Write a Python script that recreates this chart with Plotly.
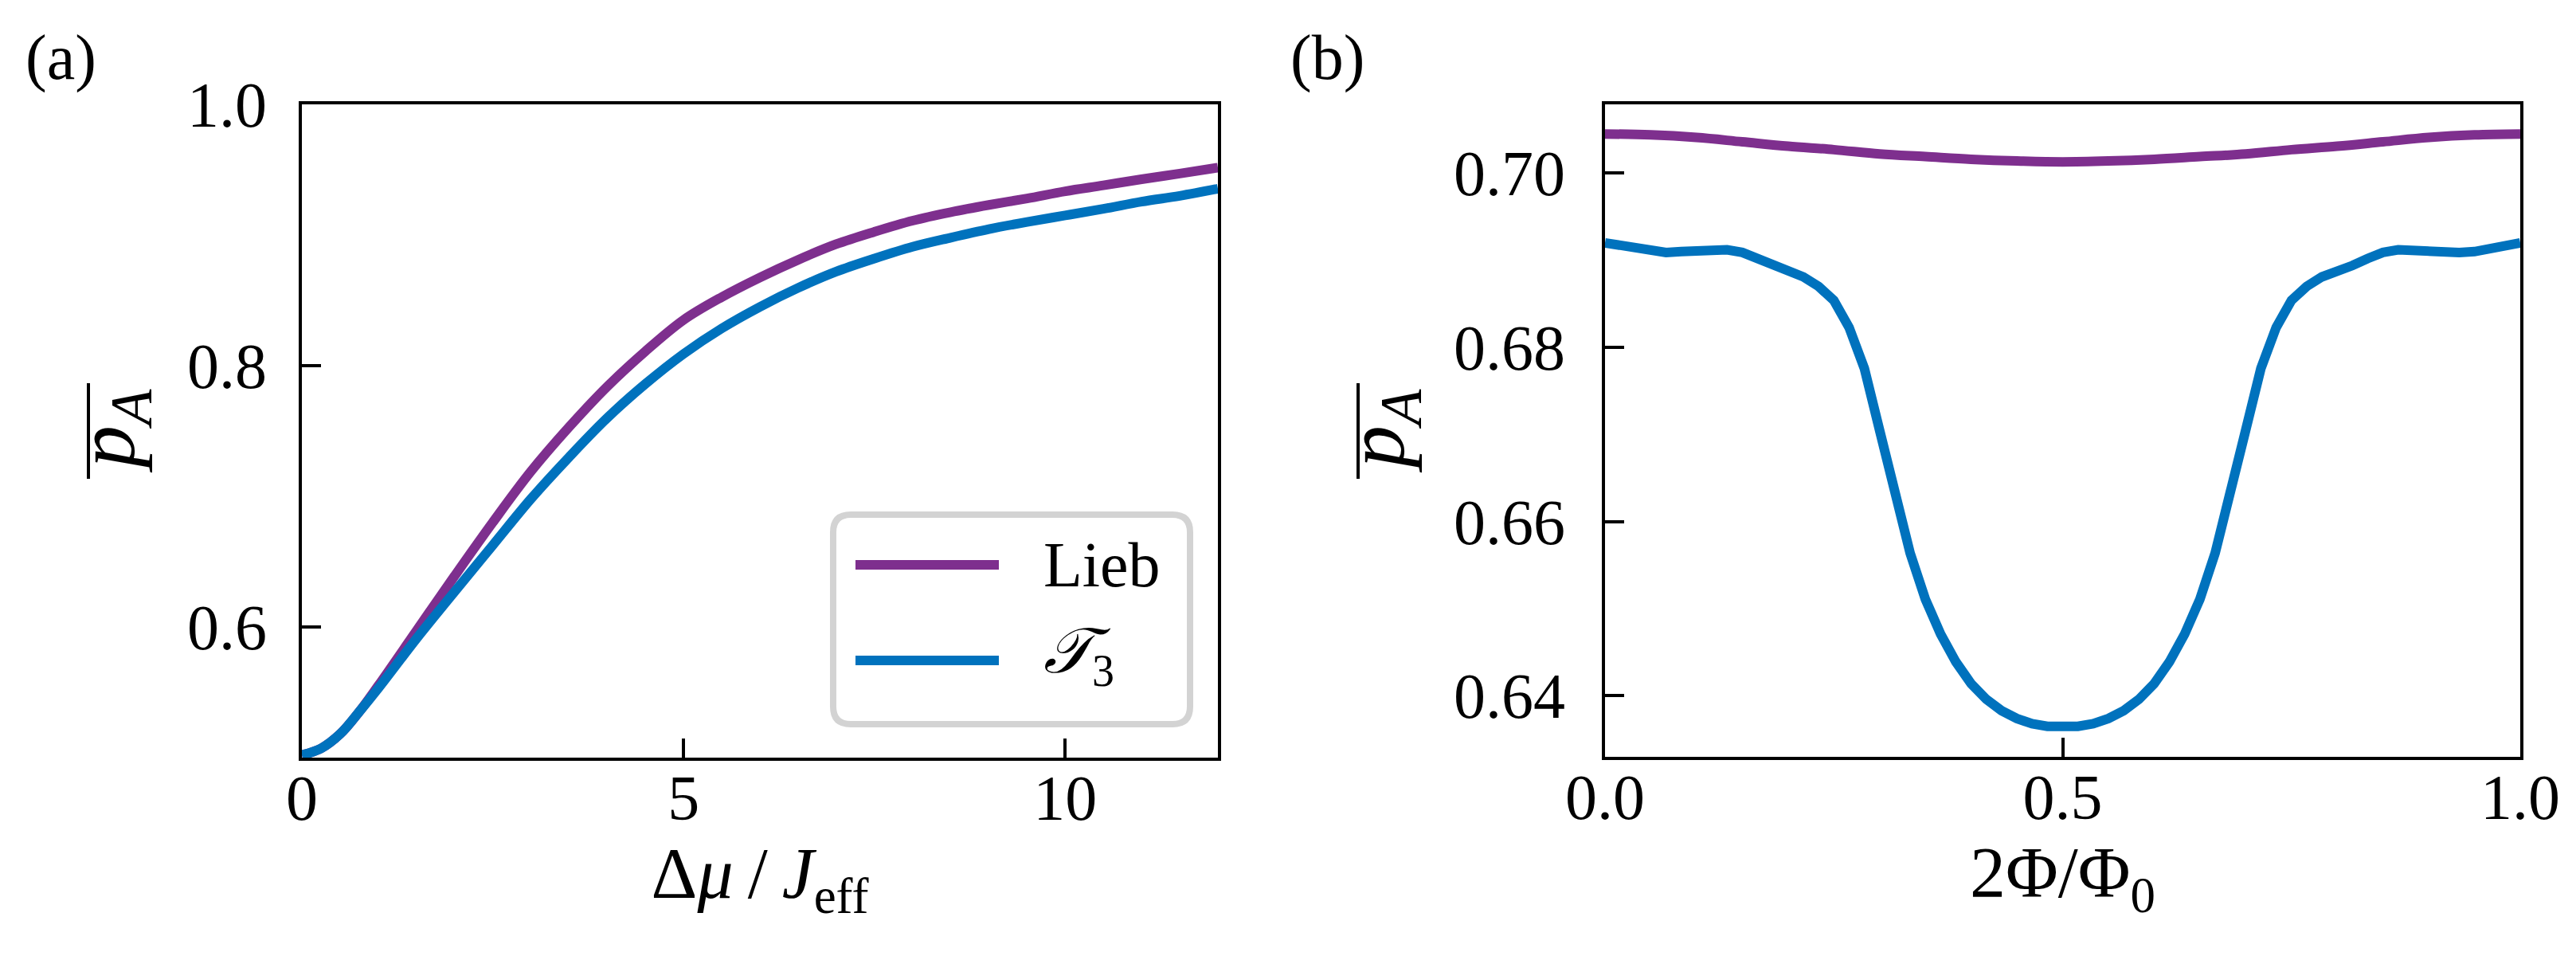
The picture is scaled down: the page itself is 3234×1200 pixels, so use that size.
import plotly.graph_objects as go
from plotly.subplots import make_subplots

# 画布尺寸（像素）
W, H = 3234, 1200

FONT = 'Liberation Serif, Times New Roman, serif'
LIEB_COLOR = '#7E2F8E'
T3_COLOR = '#0072BD'
LW = 12

# (a) 平均 p_A 随 Δμ/J_eff 变化
dmu = [0, 0.25, 0.5, 0.75, 1, 1.5, 2, 2.5, 3, 3.5, 4, 4.5, 5, 5.5, 6,
       6.5, 7, 7.5, 8, 8.5, 9, 9.5, 10, 10.5, 11, 11.5, 12]
pa_lieb = [0.502, 0.507, 0.518, 0.535, 0.555, 0.597, 0.639, 0.680, 0.719, 0.753, 0.784, 0.811, 0.835,
           0.8525, 0.8675, 0.881, 0.893, 0.9025, 0.911, 0.9175, 0.923, 0.928, 0.9335, 0.938, 0.9427,
           0.947, 0.9516]
pa_t3 = [0.502, 0.507, 0.518, 0.535, 0.553, 0.591, 0.627, 0.6625, 0.698, 0.730, 0.760, 0.786, 0.809,
         0.8285, 0.845, 0.8595, 0.872, 0.882, 0.891, 0.898, 0.9045, 0.910, 0.915, 0.920, 0.9255,
         0.930, 0.9355]

# (b) 平均 p_A 随 2Φ/Φ0 变化
phi_lieb = [0, 0.05, 0.1, 0.15, 0.2, 0.25, 0.3, 0.35, 0.4, 0.45, 0.5,
            0.55, 0.6, 0.65, 0.7, 0.75, 0.8, 0.85, 0.9, 0.95, 1.0]
pb_lieb = [0.7045, 0.7044, 0.7041, 0.7036, 0.7031, 0.7027, 0.7022, 0.7019, 0.7016, 0.7014, 0.7013,
           0.7014, 0.7016, 0.7019, 0.7022, 0.7027, 0.7031, 0.7036, 0.7041, 0.7044, 0.7045]
phi_t3 = [k / 60 for k in range(61)]
pb_t3 = [0.6920, 0.6917, 0.6913, 0.6910, 0.6909, 0.6910, 0.6910, 0.6911, 0.6912, 0.6909,
         0.6902, 0.6894, 0.6887, 0.6881, 0.6870, 0.6854, 0.6823, 0.6776, 0.6705, 0.6631,
         0.6564, 0.6511, 0.6471, 0.6439, 0.6414, 0.6396, 0.6383, 0.6374, 0.6368, 0.6365,
         0.6364,
         0.6365, 0.6368, 0.6374, 0.6383, 0.6396, 0.6414, 0.6439, 0.6471, 0.6511, 0.6564,
         0.6631, 0.6705, 0.6776, 0.6823, 0.6854, 0.6870, 0.6881, 0.6887, 0.6894, 0.6902,
         0.6909, 0.6912, 0.6911, 0.6910, 0.6910, 0.6909, 0.6910, 0.6913, 0.6917, 0.6920]

xticks_a = [0, 5, 10]
yticks_a = [0.6, 0.8, 1.0]
xticks_b = [0.0, 0.5, 1.0]
yticks_b = [0.64, 0.66, 0.68, 0.70]


def px(x):
    return x / W


def py(y):
    return 1 - y / H


fig = make_subplots(rows=1, cols=2)

fig.add_trace(go.Scatter(x=dmu, y=pa_lieb, mode='lines', name='Lieb',
                         line=dict(color=LIEB_COLOR, width=LW, shape='spline')), row=1, col=1)
fig.add_trace(go.Scatter(x=dmu, y=pa_t3, mode='lines', name='T3',
                         line=dict(color=T3_COLOR, width=LW, shape='spline')), row=1, col=1)
fig.add_trace(go.Scatter(x=phi_lieb, y=pb_lieb, mode='lines', name='Lieb',
                         line=dict(color=LIEB_COLOR, width=LW, shape='spline')), row=1, col=2)
fig.add_trace(go.Scatter(x=phi_t3, y=pb_t3, mode='lines', name='T3',
                         line=dict(color=T3_COLOR, width=LW)), row=1, col=2)

axis_style = dict(
    showline=True, linewidth=4, linecolor='black', mirror=True,
    ticks='inside', ticklen=24, tickwidth=4, tickcolor='black',
    showgrid=False, zeroline=False,
    tickfont=dict(family=FONT, size=80, color='black'),
    automargin=False,
)

fig.update_xaxes(axis_style)
fig.update_yaxes(axis_style)

fig.update_layout(
    xaxis=dict(domain=[px(371), px(1521)], range=[0, 12], tickvals=xticks_a,
               ticktext=[str(v) for v in xticks_a], ticklabelstandoff=-22,
               title=dict(text='Δ<i>μ</i>\u2009/\u2009<i>J</i><sub>eff</sub>',
                          font=dict(family=FONT, size=90, color='black'), standoff=20)),
    yaxis=dict(domain=[py(943), py(123)], range=[0.5, 1.0], tickvals=yticks_a,
               ticktext=['%.1f' % v for v in yticks_a], ticklabelstandoff=24),
    xaxis2=dict(domain=[px(2007), px(3156)], range=[0, 1], tickvals=xticks_b,
                ticktext=['%.1f' % v for v in xticks_b], ticklabelstandoff=-22,
                title=dict(text='2Φ/Φ<sub>0</sub>',
                           font=dict(family=FONT, size=90, color='black'), standoff=20)),
    yaxis2=dict(domain=[py(942), py(123)], range=[0.6330, 0.7079], tickvals=yticks_b,
                ticktext=['%.2f' % v for v in yticks_b], ticklabelstandoff=30),
    width=W, height=H,
    margin=dict(l=0, r=0, t=0, b=0),
    paper_bgcolor='white', plot_bgcolor='white',
    showlegend=False,
    font=dict(family=FONT, color='black'),
)

# 纵轴标题 p̄_A（横线单独画）
for xc, xbar in [(132, 103), (1726, 1697)]:
    fig.add_annotation(x=px(xc), y=py(533), xref='paper', yref='paper',
                       text='<i>p</i><sub><i>A</i></sub>', textangle=-90,
                       showarrow=False, xanchor='center', yanchor='middle',
                       font=dict(family=FONT, size=106, color='black'))
    fig.add_shape(type='line', xref='paper', yref='paper', x0=px(xbar), x1=px(xbar),
                  y0=py(473), y1=py(593), line=dict(color='black', width=4))

# 手绘图例（圆角边框）
bx0, bx1, by0, by1, r = px(1038), px(1486), py(638), py(901), 22
rx, ry = r / W, r / H
legend_path = (f'M{bx0 + rx},{by0} L{bx1 - rx},{by0} Q{bx1},{by0} {bx1},{by0 - ry} '
               f'L{bx1},{by1 + ry} Q{bx1},{by1} {bx1 - rx},{by1} '
               f'L{bx0 + rx},{by1} Q{bx0},{by1} {bx0},{by1 + ry} '
               f'L{bx0},{by0 - ry} Q{bx0},{by0} {bx0 + rx},{by0} Z')
fig.add_shape(type='path', path=legend_path, xref='paper', yref='paper',
              line=dict(color='#D3D3D3', width=8), fillcolor='white', layer='above')
fig.add_shape(type='line', xref='paper', yref='paper', x0=px(1066), x1=px(1246), y0=py(701), y1=py(701),
              line=dict(color=LIEB_COLOR, width=LW), layer='above')
fig.add_shape(type='line', xref='paper', yref='paper', x0=px(1066), x1=px(1246), y0=py(821), y1=py(821),
              line=dict(color=T3_COLOR, width=LW), layer='above')
fig.add_annotation(x=px(1300), y=py(701), xref='paper', yref='paper', text='Lieb',
                   showarrow=False, xanchor='left', yanchor='middle',
                   font=dict(family=FONT, size=80, color='black'))
fig.add_annotation(x=px(1300), y=py(815), xref='paper', yref='paper', text='<i>𝒯</i><sub>3</sub>',
                   showarrow=False, xanchor='left', yanchor='middle',
                   font=dict(family=FONT, size=80, color='black'))

# 子图标号
fig.add_annotation(x=px(22), y=py(64), xref='paper', yref='paper', text='(a)',
                   showarrow=False, xanchor='left', yanchor='middle',
                   font=dict(family=FONT, size=80, color='black'))
fig.add_annotation(x=px(1610), y=py(64), xref='paper', yref='paper', text='(b)',
                   showarrow=False, xanchor='left', yanchor='middle',
                   font=dict(family=FONT, size=80, color='black'))

fig.write_html('out.html')
